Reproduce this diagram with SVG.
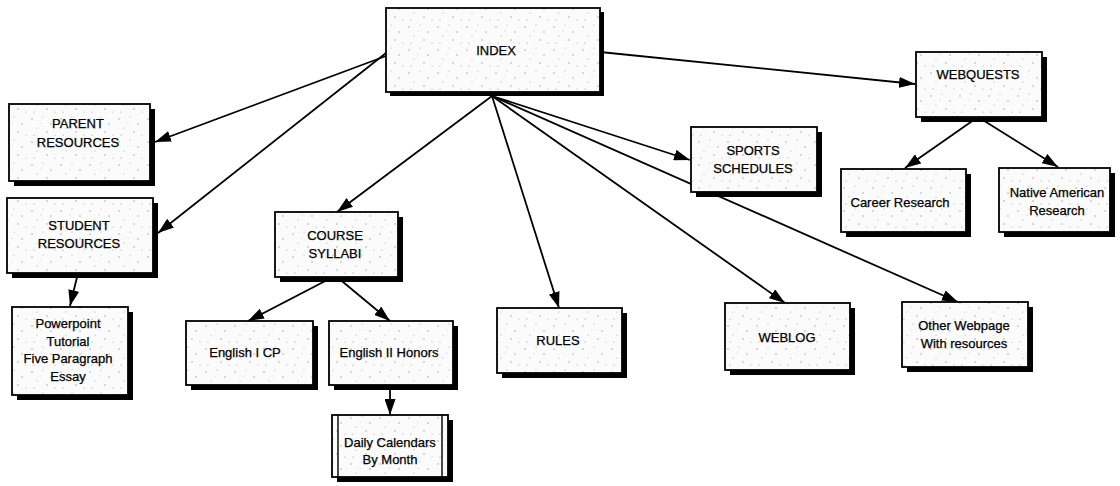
<svg xmlns="http://www.w3.org/2000/svg" width="1120" height="486" viewBox="0 0 1120 486">
<style>
.bx{fill:url(#speck);stroke:#000;stroke-width:1.8}
.sh{fill:#000}
.t{font-family:"Liberation Sans",Arial,sans-serif;font-size:13px;fill:#000;stroke:#000;stroke-width:0.25;text-anchor:middle}
.c{fill:none;stroke:#000;stroke-width:1.8;marker-end:url(#ah)}
.ln{fill:none;stroke:#000;stroke-width:1.4}
</style>
<defs>
<pattern id="speck" width="29" height="23" patternUnits="userSpaceOnUse">
<rect width="29" height="23" fill="#fbfbfb"/>
<circle cx="3" cy="4" r="0.7" fill="#999"/>
<circle cx="14" cy="2" r="0.6" fill="#aaa"/>
<circle cx="22" cy="9" r="0.7" fill="#999"/>
<circle cx="8" cy="13" r="0.6" fill="#aaa"/>
<circle cx="18" cy="17" r="0.7" fill="#999"/>
<circle cx="26" cy="20" r="0.6" fill="#aaa"/>
<circle cx="5" cy="20" r="0.6" fill="#999"/>
<circle cx="12" cy="8" r="0.5" fill="#bbb"/>
</pattern>
<marker id="ah" markerUnits="userSpaceOnUse" markerWidth="17" markerHeight="11" refX="16" refY="5.5" orient="auto">
<path d="M0,0 L16,5.5 L0,11 z" fill="#000"/>
</marker>
</defs>
<g id="connectors">
<path class="c" d="M386,56 L155,142"/>
<path class="c" d="M386,53 L158,233"/>
<path class="c" d="M492,96 L337,212"/>
<path class="c" d="M492,96 L559,308"/>
<path class="c" d="M492,96 L785,303"/>
<path class="c" d="M492,96 L958,302"/>
<path class="c" d="M492,96 L690,160"/>
<path class="c" d="M600,52 L915,84"/>
<path class="c" d="M978,117 L905,168"/>
<path class="c" d="M978,117 L1058,167"/>
<path class="c" d="M78,273 L70,306"/>
<path class="c" d="M333,277 L248,321"/>
<path class="c" d="M337,277 L390,321"/>
<path class="c" d="M390,385 L390,415"/>
</g>
<g id="index"><rect class="sh" x="390" y="12" width="214" height="84"/><rect class="bx" x="386" y="8" width="214" height="84"/><text class="t" x="496" y="55">INDEX</text></g>
<g id="parent"><rect class="sh" x="14" y="109" width="141" height="77"/><rect class="bx" x="9" y="104" width="141" height="77"/><text class="t" x="78" y="128">PARENT</text><text class="t" x="78" y="147">RESOURCES</text></g>
<g id="student"><rect class="sh" x="12" y="203" width="146" height="75"/><rect class="bx" x="7" y="198" width="146" height="75"/><text class="t" x="79" y="230">STUDENT</text><text class="t" x="79" y="248">RESOURCES</text></g>
<g id="powerpoint"><rect class="sh" x="17" y="312" width="116" height="88"/><rect class="bx" x="12" y="307" width="116" height="88"/><text class="t" x="68" y="328">Powerpoint</text><text class="t" x="68" y="345.5">Tutorial</text><text class="t" x="68" y="363">Five Paragraph</text><text class="t" x="68" y="380.5">Essay</text></g>
<g id="course"><rect class="sh" x="280" y="217" width="123" height="65"/><rect class="bx" x="275" y="212" width="123" height="65"/><text class="t" x="335" y="240">COURSE</text><text class="t" x="335" y="258">SYLLABI</text></g>
<g id="english1"><rect class="sh" x="191" y="326" width="127" height="64"/><rect class="bx" x="186" y="321" width="127" height="64"/><text class="t" x="245" y="357">English I CP</text></g>
<g id="english2"><rect class="sh" x="334" y="326" width="124" height="64"/><rect class="bx" x="329" y="321" width="124" height="64"/><text class="t" x="389" y="357">English II Honors</text></g>
<g id="daily"><rect class="sh" x="337" y="420" width="116" height="62"/><rect class="bx" x="332" y="415" width="116" height="62"/><path class="ln" d="M338,415 V477 M442,415 V477"/><text class="t" x="390" y="447">Daily Calendars</text><text class="t" x="390" y="464">By Month</text></g>
<g id="rules"><rect class="sh" x="502" y="313" width="125" height="65"/><rect class="bx" x="497" y="308" width="125" height="65"/><text class="t" x="558" y="345">RULES</text></g>
<g id="sports"><rect class="sh" x="696" y="132" width="126" height="65"/><rect class="bx" x="691" y="127" width="126" height="65"/><text class="t" x="753" y="155">SPORTS</text><text class="t" x="753" y="173">SCHEDULES</text></g>
<g id="weblog"><rect class="sh" x="730" y="308" width="125" height="67"/><rect class="bx" x="725" y="303" width="125" height="67"/><text class="t" x="787" y="342">WEBLOG</text></g>
<g id="other"><rect class="sh" x="907" y="307" width="126" height="65"/><rect class="bx" x="902" y="302" width="126" height="65"/><text class="t" x="964" y="330">Other Webpage</text><text class="t" x="964" y="348">With resources</text></g>
<g id="webquests"><rect class="sh" x="921" y="57" width="126" height="65"/><rect class="bx" x="916" y="52" width="126" height="65"/><text class="t" x="978" y="79">WEBQUESTS</text></g>
<g id="career"><rect class="sh" x="846" y="174" width="125" height="63"/><rect class="bx" x="841" y="169" width="125" height="63"/><text class="t" x="900" y="207">Career Research</text></g>
<g id="native"><rect class="sh" x="1004" y="173" width="111" height="64"/><rect class="bx" x="999" y="168" width="111" height="64"/><text class="t" x="1057" y="197">Native American</text><text class="t" x="1057" y="215">Research</text></g>
</svg>
